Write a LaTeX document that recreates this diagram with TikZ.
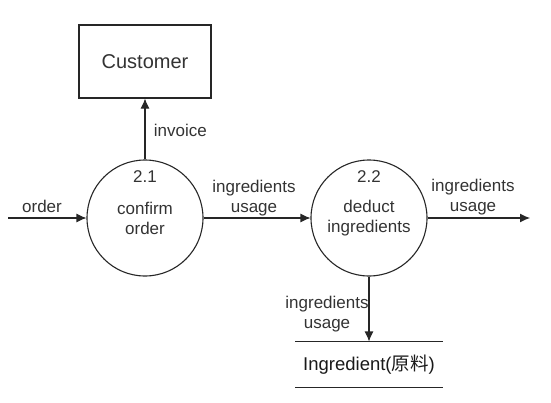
\documentclass[tikz,border=0pt]{standalone}
\usepackage{fontspec}
\setmainfont{Liberation Sans}
\newfontfamily\cjk{Noto Sans CJK SC}
\usetikzlibrary{arrows.meta}
\tikzset{>={Latex[length=10pt,width=9pt]}}

\begin{document}
\begin{tikzpicture}[x=1pt,y=-1pt,line width=1.1pt,every node/.style={text=black!80,font=\fontsize{17}{20}\selectfont}]
\useasboundingbox (0,0) rectangle (551,402);
\node[rectangle,draw=black!85,minimum width=132pt,minimum height=73pt] (cust) at (145,61.5) {\fontsize{20}{22}\selectfont Customer};
\node[circle,draw=black!85,inner sep=0pt,minimum size=116pt,align=center] (p21) at (145,218) {confirm\\order};
\node[circle,draw=black!85,inner sep=0pt,minimum size=116pt,align=center] (p22) at (369,218) {deduct\\ingredients};
\node (n21) at (145,177) {2.1};
\node (n22) at (369,177) {2.2};
\node[minimum width=146pt,minimum height=45pt,inner sep=0pt,text=black!90] (store) at (369,364.5) {\fontsize{18.5}{20}\selectfont Ingredient({\cjk 原料})};
\coordinate (in) at (8,218);
\coordinate (out) at (530,218);
\draw[black!85] (store.north west) -- (store.north east);
\draw[black!85] (store.south west) -- (store.south east);
\draw[black!85,->] (in) -- (p21);
\draw[black!85,->] (p21) -- (cust);
\draw[black!85,->] (p21) -- (p22);
\draw[black!85,->] (p22) -- (out);
\draw[black!85,->] (p22) -- (store.north);
\node (lorder) at (42,206) {order};
\node[anchor=west] (linv) at (150,130) {invoice};
\node[align=center] (l12) at (254,198) {ingredients\\usage};
\node[align=center] (lout) at (473,197) {ingredients\\usage};
\node[align=center] (ldown) at (327,314) {ingredients\\usage};
\end{tikzpicture}
\end{document}
